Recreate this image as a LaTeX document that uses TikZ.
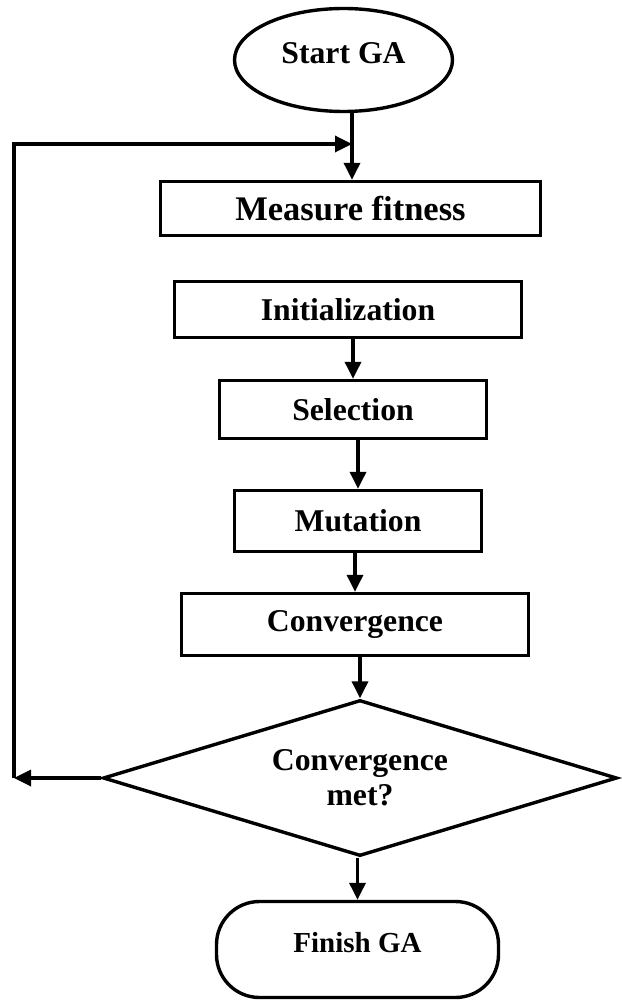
\documentclass[tikz,border=0pt]{standalone}
\usepackage{fontspec}
\setmainfont{Liberation Serif}
\usetikzlibrary{shapes.geometric,arrows.meta}
\tikzset{
    box/.style={draw,line width=3.4pt,inner sep=0pt,font=\fontsize{31.7}{35}\selectfont\bfseries},
    arr/.style={line width=3.4pt,-{Triangle[length=17pt,width=16pt]}}
}
\begin{document}
\begin{tikzpicture}[x=1pt,y=-1pt]
    \useasboundingbox (0,0) rectangle (621,1000);
    \node[box,ellipse,minimum width=218pt,minimum height=103pt,text depth=14pt] (start) at (343.5,60) {Start GA};
    \node[box,minimum width=380pt,minimum height=54pt,font=\fontsize{34.5}{38}\selectfont\bfseries] (measure) at (350.5,208.5) {Measure fitness};
    \node[box,minimum width=347pt,minimum height=56pt] (init) at (348,309.5) {Initialization};
    \node[box,minimum width=267pt,minimum height=58pt] (select) at (353,409.5) {Selection};
    \node[box,minimum width=247pt,minimum height=61pt] (mutate) at (358,521) {Mutation};
    \node[box,minimum width=347pt,minimum height=62pt] (converge) at (355,624.5) {Convergence};
    \node[box,diamond,aspect=3.25,align=center,minimum width=514pt,minimum height=156pt] (check) at (360,778) {Convergence\\met?};
    \node[box,rounded corners=43pt,minimum width=282pt,minimum height=96pt,text depth=15pt,font=\fontsize{29}{33}\selectfont\bfseries] (finish) at (357.5,949.5) {Finish GA};
    \coordinate (corner) at (14,778);
    \coordinate (join) at (352,144);
    \draw[line width=3.4pt] (start.south -| join) -- (join);
    \draw[arr] (join) -- (join |- measure.north);
    \foreach \a/\b in {init/select,select/mutate,mutate/converge,converge/check,check/finish}
        \draw[arr] (\b.north |- \a.south) -- (\b.north);
    \draw[arr] (check.west) -- (corner);
    \draw[arr] (corner) |- (join);
\end{tikzpicture}
\end{document}
